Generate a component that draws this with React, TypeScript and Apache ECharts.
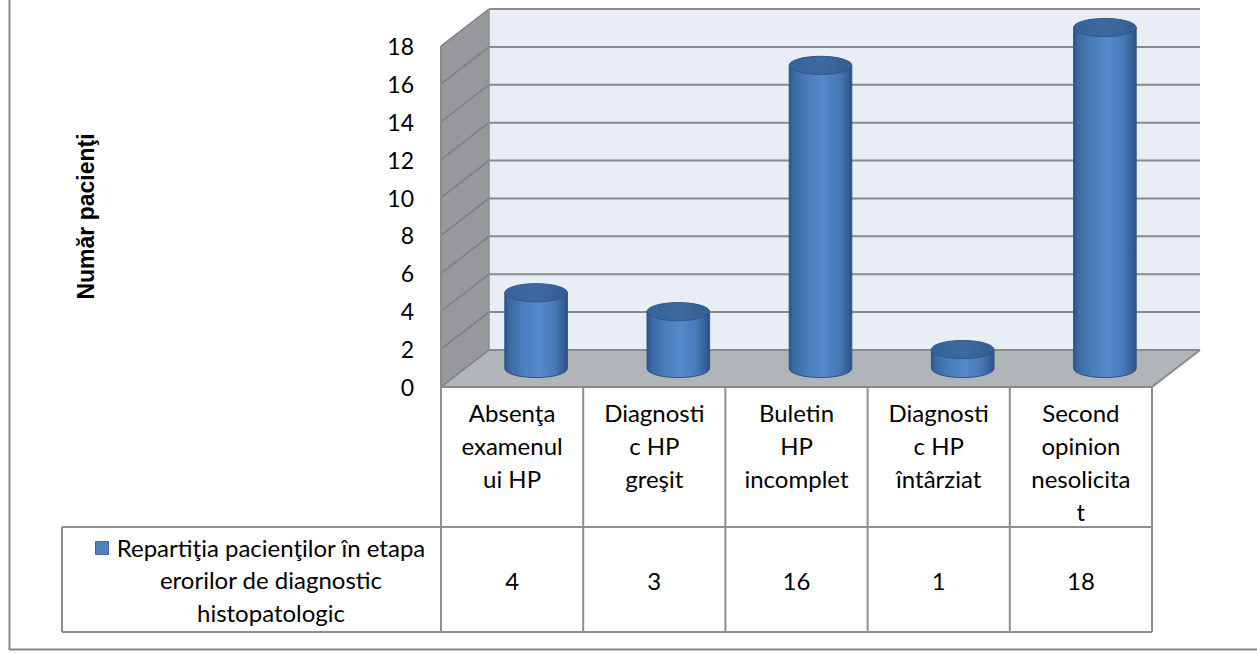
import React, { useEffect, useRef } from "react";
import * as echarts from "echarts";

// Category labels as they wrap inside the data-table cells
const categories = [
  "Absenţa\nexamenul\nui HP",
  "Diagnosti\nc HP\ngreşit",
  "Buletin\nHP\nincomplet",
  "Diagnosti\nc HP\nîntârziat",
  "Second\nopinion\nnesolicita\nt",
];
const patients = [4, 3, 16, 1, 18];
const yTicks = [0, 2, 4, 6, 8, 10, 12, 14, 16, 18];
const seriesName = "Repartiţia pacienţilor în etapa erorilor de diagnostic histopatologic";
const seriesNameLines = ["Repartiţia pacienţilor în etapa", "erorilor de diagnostic", "histopatologic"];
const axisTitle = "Număr pacienţi";

// Layout (pixels)
const GRID_LEFT = 441;
const GRID_TOP = 46;
const GRID_W = 711;
const GRID_H = 341;
const DX = 48; // depth offset of the 3D box
const DY = -37;
const TABLE_LEFT = 62;
const TABLE_MID = 527;
const TABLE_BOTTOM = 632;
const VALUE_ROW_Y = 580;
const FONT = "Lato, 'Noto Sans', sans-serif";
const TEXT_SIZE = 24;
const GRID_COLOR = "#8a8a8a";

const Y_MIN = yTicks[0];
const Y_MAX = yTicks[yTicks.length - 1];
const Y_STEP = yTicks[1] - yTicks[0];

export default function App() {
  const ref = useRef<HTMLDivElement>(null);

  useEffect(() => {
    if (!ref.current) return;
    const chart = echarts.init(ref.current, undefined, { renderer: "svg" });

    const bodyGradient = new echarts.graphic.LinearGradient(0, 0, 1, 0, [
      { offset: 0, color: "#2b5485" },
      { offset: 0.07, color: "#3a69a3" },
      { offset: 0.3, color: "#4a7ebd" },
      { offset: 0.55, color: "#5489cc" },
      { offset: 0.8, color: "#4878b6" },
      { offset: 0.94, color: "#365f96" },
      { offset: 1, color: "#2a5080" },
    ]);
    const topGradient = new echarts.graphic.LinearGradient(0, 0, 1, 0, [
      { offset: 0, color: "#36629a" },
      { offset: 0.5, color: "#3c6a9f" },
      { offset: 1, color: "#355e92" },
    ]);

    const colW = GRID_W / categories.length;
    const bottom = GRID_TOP + GRID_H;
    const right = GRID_LEFT + GRID_W;

    // data table grid lines
    const tableLines: any[] = [];
    const line = (x1: number, y1: number, x2: number, y2: number, color = "#8e8e8e", w = 2) => ({
      type: "line",
      silent: true,
      shape: { x1, y1, x2, y2 },
      style: { stroke: color, lineWidth: w },
      z: 10,
    });
    for (let i = 0; i <= categories.length; i++) {
      const x = GRID_LEFT + i * colW;
      tableLines.push(line(x, bottom, x, TABLE_BOTTOM));
    }
    tableLines.push(line(TABLE_LEFT, TABLE_MID, right, TABLE_MID));
    tableLines.push(line(TABLE_LEFT, TABLE_BOTTOM, right, TABLE_BOTTOM));
    tableLines.push(line(TABLE_LEFT, TABLE_MID, TABLE_LEFT, TABLE_BOTTOM));

    const headerCenterX = 271;
    const headerTexts = seriesNameLines.map((t, k) => ({
      type: "text",
      silent: true,
      z: 10,
      style: {
        x: headerCenterX,
        y: 547 + k * 32.5,
        text: t,
        fill: "#000",
        font: `${TEXT_SIZE}px ${FONT}`,
        align: "center",
        verticalAlign: "middle",
      },
    }));

    chart.setOption({
      animation: false,
      grid: { left: GRID_LEFT, top: GRID_TOP, width: GRID_W, height: GRID_H, containLabel: false },
      xAxis: {
        type: "category",
        data: categories,
        axisLine: { show: false },
        axisTick: { show: false },
        splitLine: { show: false },
        axisLabel: {
          interval: 0,
          hideOverlap: false,
          color: "#000",
          fontFamily: FONT,
          fontSize: TEXT_SIZE,
          lineHeight: 33,
          margin: 9,
          verticalAlign: "top",
          align: "center",
        },
      },
      yAxis: {
        type: "value",
        min: Y_MIN,
        max: Y_MAX,
        interval: Y_STEP,
        axisLine: { show: false },
        axisTick: { show: false },
        splitLine: { show: false },
        axisLabel: { color: "#000", fontFamily: FONT, fontSize: 23, margin: 27 },
        name: axisTitle,
        nameLocation: "middle",
        nameRotate: 90,
        nameGap: 344,
        nameTextStyle: {
          fontFamily: "'Liberation Sans', Arial, sans-serif",
          fontWeight: "bold",
          fontSize: 23,
          color: "#000",
        },
      },
      graphic: [
        // outer chart-area border
        line(9.5, 0, 9.5, 650, "#868686", 2),
        line(9, 649.5, 1257, 649.5, "#868686", 2),
        ...tableLines,
        {
          type: "rect",
          silent: true,
          z: 10,
          shape: { x: 95.5, y: 541.5, width: 13, height: 13 },
          style: { fill: "#4f81bd", stroke: "#3b6a9f", lineWidth: 1 },
        },
        ...headerTexts,
      ],
      series: [
        {
          // 3D box: back wall, side wall, floor and gridlines
          type: "custom",
          name: "walls",
          silent: true,
          clip: false,
          z: 1,
          data: [[0, 0]],
          renderItem: (params: any, api: any) => {
            const cs = params.coordSys;
            const x0 = cs.x;
            const x1 = cs.x + cs.width;
            const yAt = (v: number) => api.coord([0, v])[1];
            const y0 = yAt(Y_MIN);
            const yTop = yAt(Y_MAX);
            const children: any[] = [
              {
                type: "polygon",
                shape: { points: [[x0 + DX, yTop + DY], [x1 + DX, yTop + DY], [x1 + DX, y0 + DY], [x0 + DX, y0 + DY]] },
                style: { fill: "#e8edf6" },
              },
              {
                type: "polygon",
                shape: { points: [[x0, yTop], [x0 + DX, yTop + DY], [x0 + DX, y0 + DY], [x0, y0]] },
                style: { fill: "#96989b" },
              },
              {
                type: "polygon",
                shape: { points: [[x0, y0], [x0 + DX, y0 + DY], [x1 + DX, y0 + DY], [x1, y0]] },
                style: { fill: "#b1b4b8" },
              },
            ];
            yTicks.forEach((v) => {
              const y = yAt(v);
              children.push({
                type: "line",
                shape: { x1: x0 + DX, y1: y + DY, x2: x1 + DX, y2: y + DY },
                style: { stroke: GRID_COLOR, lineWidth: 2 },
              });
              children.push({
                type: "line",
                shape: { x1: x0, y1: y, x2: x0 + DX, y2: y + DY },
                style: { stroke: "#7c7e81", lineWidth: 1.5 },
              });
            });
            // box edges
            children.push({
              type: "line",
              shape: { x1: x0 + DX, y1: yTop + DY, x2: x0 + DX, y2: y0 + DY },
              style: { stroke: "#8c8e91", lineWidth: 1.5 },
            });
            children.push({
              type: "line",
              shape: { x1: x0, y1: yTop, x2: x0, y2: y0 },
              style: { stroke: "#8a8a8a", lineWidth: 2 },
            });
            children.push({
              type: "line",
              shape: { x1: x0, y1: y0, x2: x1, y2: y0 },
              style: { stroke: "#8a8a8a", lineWidth: 2 },
            });
            children.push({
              type: "line",
              shape: { x1: x1, y1: y0, x2: x1 + DX, y2: y0 + DY },
              style: { stroke: "#8a8a8a", lineWidth: 2 },
            });
            return { type: "group", children };
          },
        },
        {
          // cylinders
          type: "custom",
          name: seriesName,
          clip: false,
          z: 2,
          data: patients.map((v, i) => [i, v]),
          renderItem: (params: any, api: any) => {
            const i = api.value(0);
            const v = api.value(1);
            const base = api.coord([i, 0]);
            const top = api.coord([i, v]);
            const band = api.size([1, 0])[0];
            const rx = band * 0.22;
            const ry = rx * 0.29;
            const cx = base[0] + DX / 2;
            const yb = base[1] + DY / 2;
            const yt = top[1] + DY / 2;
            return {
              type: "group",
              children: [
                {
                  type: "path",
                  shape: {
                    pathData: `M${cx - rx} ${yt} L${cx - rx} ${yb} A${rx} ${ry} 0 0 0 ${cx + rx} ${yb} L${cx + rx} ${yt} Z`,
                  },
                  style: { fill: bodyGradient, stroke: "#2d5687", lineWidth: 1 },
                },
                {
                  type: "ellipse",
                  shape: { cx, cy: yt, rx, ry },
                  style: { fill: topGradient, stroke: "#2e5889", lineWidth: 1 },
                },
              ],
            };
          },
        },
        {
          // value row of the data table
          type: "custom",
          name: "values",
          silent: true,
          clip: false,
          z: 3,
          data: patients.map((v, i) => [i, v]),
          renderItem: (params: any, api: any) => {
            const x = api.coord([api.value(0), 0])[0];
            return {
              type: "text",
              style: {
                x,
                y: VALUE_ROW_Y,
                text: String(api.value(1)),
                fill: "#000",
                font: `${TEXT_SIZE}px ${FONT}`,
                align: "center",
                verticalAlign: "middle",
              },
            };
          },
        },
      ],
    });

    return () => chart.dispose();
  }, []);

  return (
    <div
      ref={ref}
      style={{ position: "absolute", left: 0, top: 0, width: 1257, height: 653, background: "#fff" }}
    />
  );
}
